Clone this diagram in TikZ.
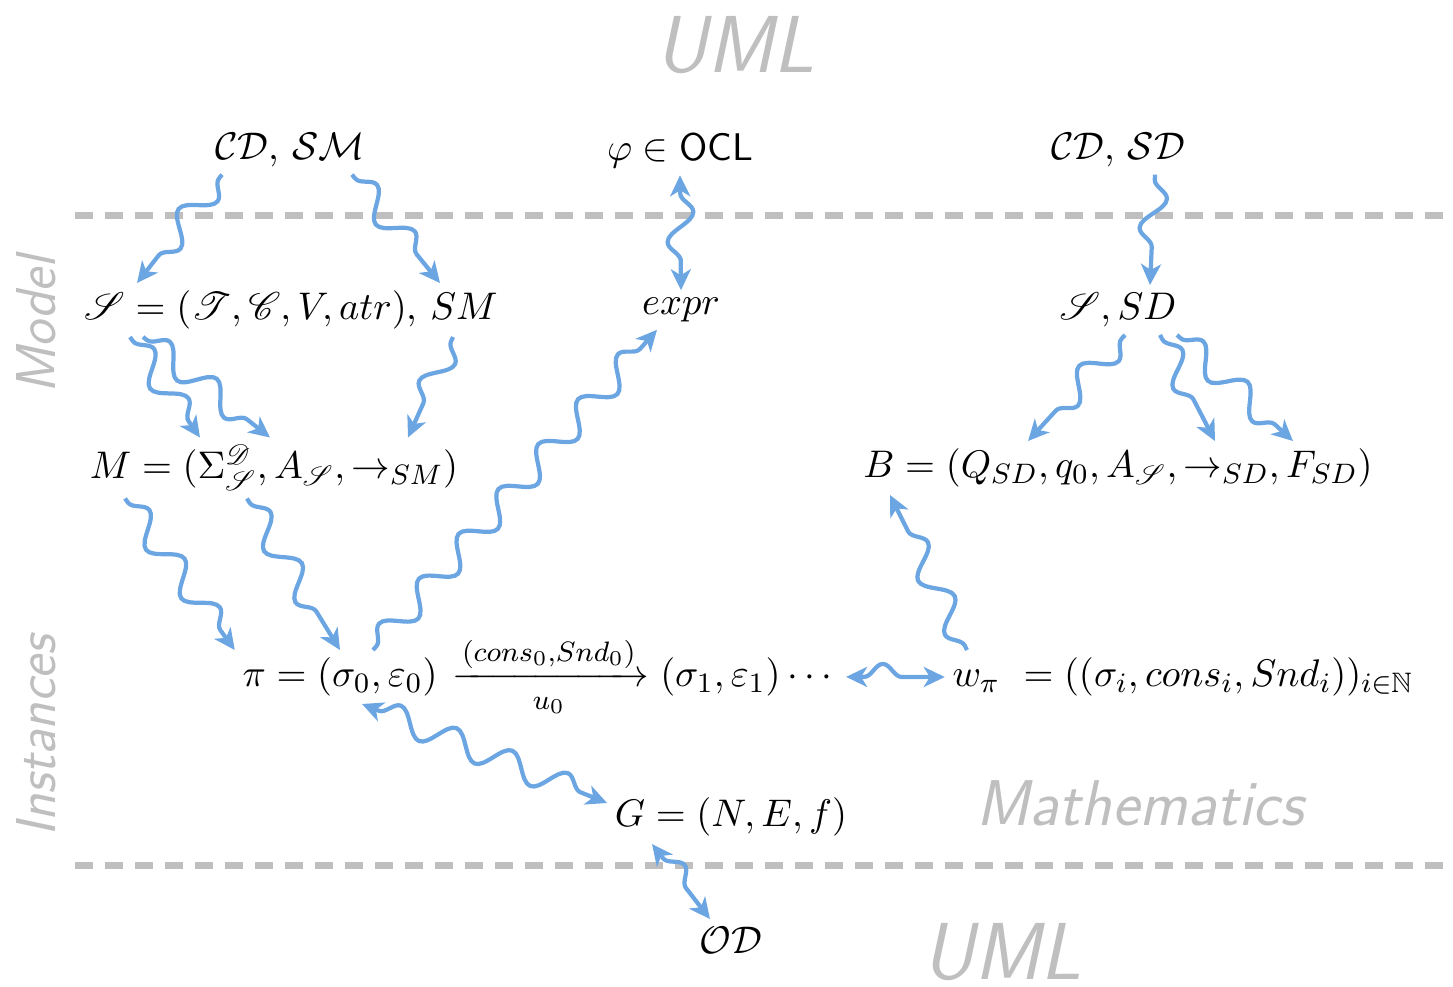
\documentclass[tikz,11pt,border=0pt]{standalone}
\usepackage{amsmath, amssymb}
\usepackage{mathrsfs}
\usepackage{xcolor}
\usepackage{tikz}
\usetikzlibrary{arrows.meta, positioning, decorations.pathmorphing}
\definecolor{wiggle}{RGB}{108,166,226}
\tikzset{
    term/.style={inner sep=2pt, align=center},
    arrow/.style={-{Stealth[length=2.1mm, width=2mm, inset=0.6mm]}, line width=1.2pt, draw=wiggle, decorate,
        decoration={snake, amplitude=1.3mm, segment length=6mm, pre length=0.5mm, post length=1.8mm}},
    biarrow/.style={arrow, {Stealth[length=2.1mm, width=2mm, inset=0.6mm]}-{Stealth[length=2.1mm, width=2mm, inset=0.6mm]},
        decoration={snake, amplitude=1.3mm, segment length=6mm, pre length=1.8mm, post length=1.8mm}},
    layer/.style={draw=gray!50, line width=2pt, dash pattern=on 1.8mm off 1.2mm},
    region/.style={text=gray!50, font=\sffamily\itshape\fontsize{16}{19}\selectfont}
}

\begin{document}
\begin{tikzpicture}
    \useasboundingbox (0,0) rectangle (14.53,-9.86);

    % Separators between UML, model and instance level
    \draw[layer] (0.75,-2.15) -- (14.53,-2.15);
    \draw[layer] (0.75,-8.65) -- (14.53,-8.65);

    % Level captions
    \node[region, font=\sffamily\itshape\fontsize{23}{27}\selectfont] (umltop) at (7.35,-0.45) {UML};
    \node[region, font=\sffamily\itshape\fontsize{23}{27}\selectfont] (umlbot) at (10.02,-9.52) {UML};
    \node[region, rotate=90] (model) at (0.36,-3.25) {Model};
    \node[region, rotate=90] (inst) at (0.36,-7.36) {Instances};
    \node[region, font=\sffamily\itshape\fontsize{18.4}{22}\selectfont] (maths) at (11.40,-8.03) {Mathematics};

    % UML artefacts
    \node[term] (cdsm) at (2.90,-1.50) {$\mathcal{CD}$, $\mathcal{SM}$};
    \node[term] (phi) at (6.80,-1.50) {$\varphi \in \textsf{OCL}$};
    \node[term] (cdsd) at (11.18,-1.50) {$\mathcal{CD}$, $\mathcal{SD}$};

    % Model level
    \node[term] (seq) at (2.91,-3.10) {$\mathscr{S} = (\mathscr{T}, \mathscr{C}, V, atr)$, $SM$};
    \node[term] (expr) at (6.81,-3.10) {$expr$};
    \node[term] (ssd) at (11.18,-3.10) {$\mathscr{S}, SD$};
    \node[term] (mm) at (2.74,-4.68) {$M = (\Sigma^{\mathscr{D}}_{\mathscr{S}}, A_{\mathscr{S}}, \rightarrow_{SM})$};
    \node[term] (bb) at (11.18,-4.68) {$B = (Q_{SD}, q_0, A_{\mathscr{S}}, \rightarrow_{SD}, F_{SD})$};

    % Instance level
    \node[term] (pi) at (3.40,-6.77) {$\pi = (\sigma_0, \varepsilon_0)$};
    \node[term, base right=0pt of pi] (pinext) {$\xrightarrow[u_0]{(cons_0, Snd_0)} (\sigma_1, \varepsilon_1)\cdots$};
    \node[term] (ww) at (11.83,-6.77) {$w_{\pi}\ = ((\sigma_i, cons_i, Snd_i))_{i \in \mathbb{N}}$};
    \node[term] (gg) at (7.31,-8.17) {$G = (N, E, f)$};
    \node[term] (od) at (7.31,-9.40) {$\mathcal{OD}$};

    % Translations
    \draw[arrow] ([xshift=-6.8mm]cdsm.south) -- ([xshift=-15.4mm]seq.north);
    \draw[arrow] ([xshift=6.2mm]cdsm.south) -- ([xshift=14.9mm]seq.north);
    \draw[biarrow] (phi.south) -- (expr.north);
    \draw[arrow] ([xshift=3.7mm]cdsd.south) -- ([xshift=3.2mm]ssd.north);

    \draw[arrow] ([xshift=-16.1mm]seq.south) -- ([xshift=-7.4mm]mm.north);
    \draw[arrow] ([xshift=-14.8mm]seq.south) -- ([xshift=-0.4mm]mm.north);
    \draw[arrow] ([xshift=16.2mm]seq.south) -- ([xshift=13.4mm]mm.north);
    \draw[arrow] ([xshift=0.7mm]ssd.south) -- ([xshift=-9.0mm]bb.north);
    \draw[arrow] ([xshift=4.2mm]ssd.south) -- ([xshift=9.7mm]bb.north);
    \draw[arrow] ([xshift=5.9mm]ssd.south) -- ([xshift=17.5mm]bb.north);

    \draw[arrow] ([xshift=-14.9mm]mm.south) -- (pi.north west);
    \draw[arrow] ([xshift=-2.7mm]mm.south) -- (pi.north);
    \draw[arrow] ([xshift=3.3mm]pi.north) -- ([xshift=-2.4mm]expr.south);
    \draw[arrow] ([xshift=-21.6mm]ww.north) -- ([xshift=-22.8mm]bb.south);
    \draw[biarrow] (pinext.east) -- (ww.west);
    \draw[biarrow] ([xshift=2.2mm]pi.south) -- ([yshift=1.4mm]gg.west);
    \draw[biarrow] ([xshift=-7.9mm]gg.south) -- ([xshift=-2.1mm]od.north);
\end{tikzpicture}
\end{document}
